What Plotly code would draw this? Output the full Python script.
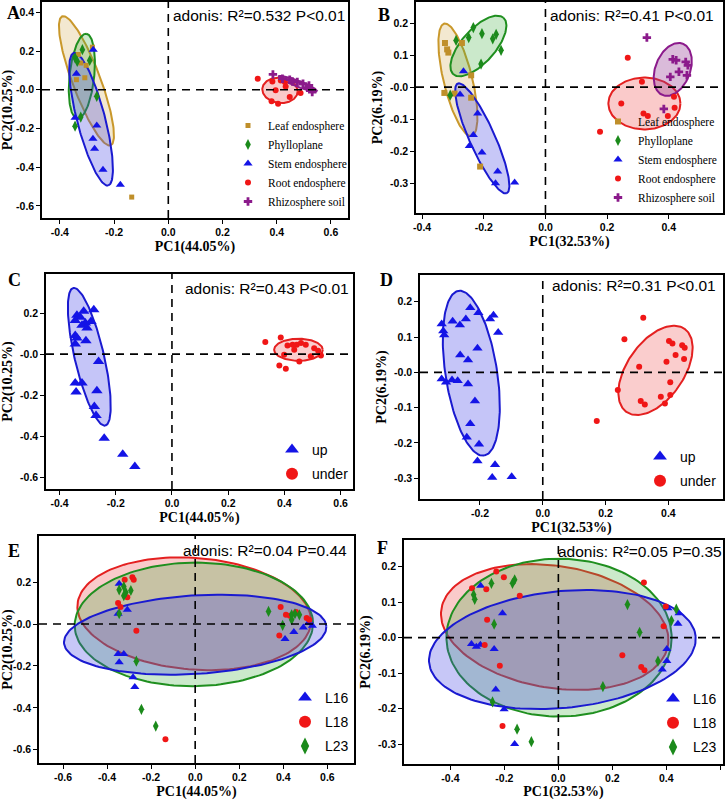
import numpy as np
import plotly.graph_objects as go

# ---------------- data ----------------
# Panel A : PC1(44.05%) / PC2(10.25%), five compartments
A_leaf_pc1 = [-0.280, -0.323, -0.308, -0.339, -0.332, -0.303, -0.135]
A_leaf_pc2 = [0.220, 0.138, 0.062, 0.052, 0.182, 0.126, -0.554]
A_phyl_pc1 = [-0.317, -0.344, -0.290, -0.264, -0.323, -0.344, -0.336]
A_phyl_pc2 = [0.207, 0.165, 0.151, -0.034, -0.141, -0.188, 0.146]
A_stem_pc1 = [-0.277, -0.339, -0.344, -0.264, -0.278, -0.272, -0.241, -0.177]
A_stem_pc2 = [0.207, 0.083, -0.145, -0.184, -0.253, -0.305, -0.413, -0.491]
A_root_pc1 = [0.330, 0.384, 0.415, 0.433, 0.396, 0.448, 0.488, 0.381, 0.405, 0.430]
A_root_pc2 = [0.057, 0.043, 0.048, 0.017, -0.003, -0.038, -0.017, -0.059, -0.072, 0.040]
A_rhizo_pc1 = [0.386, 0.421, 0.448, 0.476, 0.497, 0.519, 0.531, 0.513, 0.458]
A_rhizo_pc2 = [0.079, 0.057, 0.052, 0.040, 0.031, 0.022, -0.012, 0.010, 0.043]
# ellipse: centre x, centre y, semi-axis 1 (dx, dy), semi-axis 2 (dx, dy)
A_leaf_ell = [-0.302, 0.046, 0.0892, -0.333, 0.0484, 0.0253]
A_phyl_ell = [-0.319, 0.070, 0.0166, 0.219, 0.0453, -0.0067]
A_stem_ell = [-0.285, -0.152, 0.0633, -0.342, 0.050, 0.0181]
A_root_ell = [0.412, -0.003, 0.0652, -0.0052, 0.0, -0.0654]
A_rhizo_ell = [0.478, 0.031, 0.0707, -0.0379, -0.0039, -0.0145]

# Panel B : PC1(32.53%) / PC2(6.19%)
B_leaf_pc1 = [-0.326, -0.319, -0.315, -0.271, -0.328, -0.295, -0.241, -0.241, -0.212]
B_leaf_pc2 = [0.138, 0.118, 0.108, 0.138, -0.018, -0.020, 0.037, -0.033, -0.248]
B_phyl_pc1 = [-0.290, -0.249, -0.234, -0.206, -0.171, -0.160, -0.144, -0.209, -0.309]
B_phyl_pc2 = [0.146, 0.155, 0.186, 0.167, 0.151, 0.165, 0.115, 0.072, -0.025]
B_stem_pc1 = [-0.266, -0.277, -0.220, -0.234, -0.247, -0.206, -0.155, -0.162, -0.100]
B_stem_pc2 = [0.050, -0.023, -0.082, -0.149, -0.184, -0.204, -0.263, -0.300, -0.298]
B_root_pc1 = [0.267, 0.313, 0.246, 0.318, 0.332, 0.397, 0.419, 0.417, 0.177]
B_root_pc2 = [0.092, 0.017, -0.051, -0.082, -0.090, -0.090, -0.064, -0.030, -0.139]
B_rhizo_pc1 = [0.329, 0.413, 0.424, 0.455, 0.462, 0.433, 0.459, 0.405, 0.384]
B_rhizo_pc2 = [0.155, 0.087, 0.084, 0.079, 0.068, 0.048, 0.037, 0.032, -0.068]
B_leaf_ell = [-0.284, 0.023, 0.0444, -0.1753, 0.0452, 0.0105]
B_phyl_ell = [-0.2175, 0.1286, 0.0812, 0.0882, 0.0407, -0.0344]
B_stem_ell = [-0.205, -0.160, 0.0795, -0.1712, 0.0376, 0.0161]
B_root_ell = [0.321, -0.051, 0.1169, 0.0, 0.0, -0.0809]
B_rhizo_ell = [0.413, 0.0555, 0.0325, 0.0804, 0.0526, -0.0195]

# Panel C : up / under, PC1(44.05%)
C_up_pc1 = [-0.278, -0.314, -0.338, -0.326, -0.308, -0.288, -0.344, -0.320, -0.302, -0.344, -0.338, -0.344,
            -0.306, -0.261, -0.344, -0.320, -0.341, -0.267, -0.276, -0.270, -0.241, -0.175, -0.132]
C_up_pc2 = [0.216, 0.208, 0.189, 0.179, 0.151, 0.159, 0.163, 0.140, 0.127, 0.091, 0.078, 0.049,
            0.065, -0.036, -0.141, -0.141, -0.185, -0.179, -0.255, -0.299, -0.410, -0.488, -0.548]
C_under_pc1 = [0.332, 0.387, 0.411, 0.429, 0.444, 0.459, 0.476, 0.435, 0.399, 0.453, 0.494, 0.506,
               0.520, 0.530, 0.382, 0.405]
C_under_pc2 = [0.059, 0.081, 0.042, 0.046, 0.046, 0.054, 0.046, 0.021, -0.003, -0.036, -0.011, 0.029,
               0.016, -0.007, -0.055, -0.072]
C_up_ell = [-0.294, -0.013, 0.0569, -0.335, 0.0508, 0.0163]
C_under_ell = [0.450, 0.0211, 0.0865, 0.0, 0.0, -0.0537]

# Panel D : up / under, PC1(32.53%)
D_up_pc1 = [-0.322, -0.317, -0.314, -0.287, -0.264, -0.245, -0.231, -0.205, -0.168, -0.157, -0.142, -0.208,
            -0.263, -0.238, -0.322, -0.308, -0.289, -0.271, -0.238, -0.216, -0.231, -0.242, -0.203, -0.208,
            -0.152, -0.161, -0.099]
D_up_pc2 = [0.137, 0.117, 0.106, 0.145, 0.134, 0.151, 0.183, 0.169, 0.151, 0.162, 0.113, 0.068,
            0.049, 0.035, -0.019, -0.028, -0.022, -0.024, -0.033, -0.081, -0.146, -0.184, -0.204, -0.251,
            -0.262, -0.298, -0.296]
D_under_pc1 = [0.320, 0.260, 0.307, 0.239, 0.312, 0.325, 0.376, 0.389, 0.406, 0.406, 0.394, 0.402,
               0.413, 0.423, 0.444, 0.452, 0.450, 0.172]
D_under_pc2 = [0.155, 0.094, 0.016, -0.050, -0.081, -0.091, -0.069, -0.088, -0.064, -0.028, 0.030, 0.089,
               0.082, 0.049, 0.077, 0.070, 0.038, -0.138]
D_up_ell = [-0.2276, -0.0024, 0.0407, -0.2335, 0.0812, 0.0113]
D_under_ell = [0.359, 0.0057, 0.0924, 0.1179, 0.0739, -0.0462]

# Panel E : L16 / L18 / L23, PC1(44.05%)
E_L16_pc1 = [-0.345, -0.350, -0.308, -0.350, -0.324, -0.345, -0.282, -0.274, 0.408, 0.448, 0.491, 0.514, 0.532]
E_L16_pc2 = [0.192, 0.049, 0.068, -0.143, -0.143, -0.182, -0.254, -0.300, -0.071, -0.038, -0.016, 0.005, -0.008]
E_L18_pc1 = [-0.320, -0.285, -0.279, -0.308, -0.350, -0.339, -0.267, -0.135, 0.388, 0.412, 0.430, 0.458,
             0.506, 0.518, 0.382]
E_L18_pc2 = [0.211, 0.223, 0.211, 0.128, 0.100, 0.081, -0.032, -0.550, 0.081, 0.044, 0.040, 0.057,
             0.029, 0.021, -0.055]
E_L23_pc1 = [-0.345, -0.324, -0.315, -0.292, -0.324, -0.345, -0.267, -0.244, -0.179, 0.333, 0.438, 0.453,
             0.473, 0.397, 0.438]
E_L23_pc2 = [0.163, 0.179, 0.151, 0.160, 0.135, 0.049, -0.177, -0.407, -0.487, 0.060, 0.044, 0.049,
             0.044, -0.006, 0.021]
E_L16_ell = [0.0, -0.0507, 0.5955, 0.0396, 0.0114, -0.1867]
E_L18_ell = [-0.0045, 0.0491, 0.530, -0.0444, -0.0203, -0.2654]
E_L23_ell = [-0.006, -0.0016, 0.541, 0.0048, 0.0, -0.2948]

# Panel F : L16 / L18 / L23, PC1(32.53%)
F_L16_pc1 = [-0.288, -0.207, -0.322, -0.304, -0.289, -0.238, -0.232, -0.201, -0.162, 0.406, 0.447, 0.443,
             0.402, 0.402, 0.385]
F_L16_pc2 = [0.146, 0.069, -0.018, -0.026, -0.020, -0.032, -0.146, -0.202, -0.300, 0.083, 0.069, 0.039,
             -0.032, -0.066, -0.090]
F_L18_pc1 = [-0.320, -0.267, -0.230, -0.202, -0.143, -0.264, -0.273, -0.217, -0.207, 0.317, 0.398, 0.390,
             0.237, 0.307, 0.319]
F_L18_pc2 = [0.139, 0.136, 0.186, 0.170, 0.118, 0.050, -0.021, -0.079, -0.249, 0.155, 0.088, 0.032,
             -0.050, -0.083, -0.092]
F_L23_pc1 = [-0.314, -0.310, -0.248, -0.170, -0.162, -0.238, -0.244, -0.153, -0.100, 0.256, 0.301, 0.165,
             0.369, 0.437, 0.419]
F_L23_pc2 = [0.121, 0.108, 0.153, 0.153, 0.163, 0.038, -0.181, -0.258, -0.293, 0.093, 0.015, -0.138,
             -0.066, 0.080, 0.048]
F_L16_ell = [0.0148, -0.0336, 0.4938, 0.0374, 0.0216, -0.1636]
F_L18_ell = [-0.0136, 0.0299, 0.4198, -0.0514, -0.0363, -0.1697]
F_L23_ell = [0.0025, 0.0, 0.4173, 0.0, 0.0, -0.2224]

# axis ranges and ticks
A_xrange, A_yrange = [-0.466, 0.663], [-0.662, 0.453]
B_xrange, B_yrange = [-0.420, 0.576], [-0.393, 0.266]
C_xrange, C_yrange = [-0.448, 0.644], [-0.657, 0.390]
D_xrange, D_yrange = [-0.391, 0.574], [-0.359, 0.276]
E_xrange, E_yrange = [-0.709, 0.721], [-0.663, 0.420]
F_xrange, F_yrange = [-0.572, 0.610], [-0.356, 0.275]
A_xticks, A_yticks = [-0.4, -0.2, 0.0, 0.2, 0.4, 0.6], [0.4, 0.2, 0.0, -0.2, -0.4, -0.6]
B_xticks, B_yticks = [-0.4, -0.2, 0.0, 0.2, 0.4], [0.2, 0.1, 0.0, -0.1, -0.2, -0.3]
C_xticks, C_yticks = [-0.4, -0.2, 0.0, 0.2, 0.4, 0.6], [0.2, 0.0, -0.2, -0.4, -0.6]
D_xticks, D_yticks = [-0.2, 0.0, 0.2, 0.4], [0.2, 0.1, 0.0, -0.1, -0.2, -0.3]
E_xticks, E_yticks = [-0.6, -0.4, -0.2, 0.0, 0.2, 0.4, 0.6], [0.2, 0.0, -0.2, -0.4, -0.6]
F_xticks, F_yticks = [-0.4, -0.2, 0.0, 0.2, 0.4, 0.6], [0.2, 0.1, 0.0, -0.1, -0.2, -0.3]

adonis_labels = ["adonis: R²=0.532 P<0.01", "adonis: R²=0.41 P<0.01", "adonis: R²=0.43 P<0.01",
                 "adonis: R²=0.31 P<0.01", "adonis: R²=0.04 P=0.44", "adonis: R²=0.05 P=0.35"]
panel_letters = ["A", "B", "C", "D", "E", "F"]
pc1_titles = ["PC1(44.05%)", "PC1(32.53%)", "PC1(44.05%)", "PC1(32.53%)", "PC1(44.05%)", "PC1(32.53%)"]
pc2_titles = ["PC2(10.25%)", "PC2(6.19%)", "PC2(10.25%)", "PC2(6.19%)", "PC2(10.25%)", "PC2(6.19%)"]
compartments = ["Leaf endosphere", "Phylloplane", "Stem endosphere", "Root endosphere", "Rhizosphere soil"]
positions = ["up", "under"]
lines = ["L16", "L18", "L23"]

# ---------------- style / layout ----------------
W, H = 726, 800
SANS = "Liberation Sans, Arial, sans-serif"
SERIF = "Liberation Serif, Times New Roman, serif"

# panel frames in pixels: left, top, right, bottom
boxes = [(42, 2, 348, 218), (416, 2, 723, 213), (46, 274, 353, 489),
         (420, 275, 723, 499), (39, 536, 354, 763), (404, 540, 723, 764)]

col = {
    "leaf": ("#BF8F2A", "#C9982B", "rgba(228,205,150,0.45)"),
    "phyl": ("#1B8A1B", "#1F8F1F", "rgba(70,175,70,0.28)"),
    "stem": ("#1414E6", "#1A1AD0", "rgba(70,70,230,0.30)"),
    "root": ("#F01616", "#E42020", "rgba(240,80,80,0.30)"),
    "rhizo": ("#8B1A8B", "#8B1A8B", "rgba(150,60,150,0.35)"),
}


def ellipse(p, n=160):
    t = np.linspace(0, 2 * np.pi, n)
    cx, cy, ax, ay, bx, by = p
    return cx + ax * np.cos(t) + bx * np.sin(t), cy + ay * np.cos(t) + by * np.sin(t)


fig = go.Figure()


def add_ell(i, p, key, fill=None):
    ex, ey = ellipse(p)
    _, lc, fc = col[key]
    fig.add_trace(go.Scatter(x=ex, y=ey, mode="lines", fill="toself", fillcolor=fill or fc,
                             line=dict(color=lc, width=2), hoverinfo="skip", showlegend=False,
                             xaxis="x%d" % i, yaxis="y%d" % i))


def add_pts(i, x, y, key, symbol, size, name, legend=None, group=None):
    fig.add_trace(go.Scatter(x=x, y=y, mode="markers", name=name,
                             marker=dict(color=col[key][0], symbol=symbol, size=size, line=dict(width=0)),
                             showlegend=legend is not None, legend=legend or "legend",
                             legendgroup=group, xaxis="x%d" % i, yaxis="y%d" % i))


# Panel A
for p, k in [(A_leaf_ell, "leaf"), (A_phyl_ell, "phyl"), (A_stem_ell, "stem"), (A_root_ell, "root"), (A_rhizo_ell, "rhizo")]:
    add_ell(1, p, k)
for x, y, k, s, z, nm in [(A_leaf_pc1, A_leaf_pc2, "leaf", "square", 5, compartments[0]),
                          (A_phyl_pc1, A_phyl_pc2, "phyl", "diamond-tall", 8, compartments[1]),
                          (A_stem_pc1, A_stem_pc2, "stem", "triangle-up", 8, compartments[2]),
                          (A_root_pc1, A_root_pc2, "root", "circle", 6, compartments[3]),
                          (A_rhizo_pc1, A_rhizo_pc2, "rhizo", "cross", 7, compartments[4])]:
    add_pts(1, x, y, k, s, z, nm, legend="legend", group="a" + nm)

# Panel B
for p, k in [(B_leaf_ell, "leaf"), (B_phyl_ell, "phyl"), (B_stem_ell, "stem"), (B_root_ell, "root"), (B_rhizo_ell, "rhizo")]:
    add_ell(2, p, k)
for x, y, k, s, z, nm in [(B_leaf_pc1, B_leaf_pc2, "leaf", "square", 6, compartments[0]),
                          (B_phyl_pc1, B_phyl_pc2, "phyl", "diamond-tall", 8, compartments[1]),
                          (B_stem_pc1, B_stem_pc2, "stem", "triangle-up", 8, compartments[2]),
                          (B_root_pc1, B_root_pc2, "root", "circle", 6, compartments[3]),
                          (B_rhizo_pc1, B_rhizo_pc2, "rhizo", "cross", 7, compartments[4])]:
    add_pts(2, x, y, k, s, z, nm, legend="legend2", group="b" + nm)

# Panel C
add_ell(3, C_up_ell, "stem", "rgba(90,90,235,0.35)")
add_ell(3, C_under_ell, "root", "rgba(240,90,90,0.30)")
add_pts(3, C_up_pc1, C_up_pc2, "stem", "triangle-up", 10, positions[0], legend="legend3", group="c0")
add_pts(3, C_under_pc1, C_under_pc2, "root", "circle", 6, positions[1], legend="legend3", group="c1")

# Panel D
add_ell(4, D_up_ell, "stem", "rgba(90,90,235,0.35)")
add_ell(4, D_under_ell, "root", "rgba(240,90,90,0.30)")
add_pts(4, D_up_pc1, D_up_pc2, "stem", "triangle-up", 9, positions[0], legend="legend4", group="d0")
add_pts(4, D_under_pc1, D_under_pc2, "root", "circle", 6, positions[1], legend="legend4", group="d1")

# Panel E
add_ell(5, E_L18_ell, "root")
add_ell(5, E_L23_ell, "phyl")
add_ell(5, E_L16_ell, "stem")
add_pts(5, E_L16_pc1, E_L16_pc2, "stem", "triangle-up", 8, lines[0], legend="legend5", group="e0")
add_pts(5, E_L18_pc1, E_L18_pc2, "root", "circle", 6, lines[1], legend="legend5", group="e1")
add_pts(5, E_L23_pc1, E_L23_pc2, "phyl", "diamond-tall", 8, lines[2], legend="legend5", group="e2")

# Panel F
add_ell(6, F_L18_ell, "root")
add_ell(6, F_L23_ell, "phyl")
add_ell(6, F_L16_ell, "stem")
add_pts(6, F_L16_pc1, F_L16_pc2, "stem", "triangle-up", 8, lines[0], legend="legend6", group="f0")
add_pts(6, F_L18_pc1, F_L18_pc2, "root", "circle", 6, lines[1], legend="legend6", group="f1")
add_pts(6, F_L23_pc1, F_L23_pc2, "phyl", "diamond-tall", 8, lines[2], legend="legend6", group="f2")

xr = [A_xrange, B_xrange, C_xrange, D_xrange, E_xrange, F_xrange]
yr = [A_yrange, B_yrange, C_yrange, D_yrange, E_yrange, F_yrange]
xt = [A_xticks, B_xticks, C_xticks, D_xticks, E_xticks, F_xticks]
yt = [A_yticks, B_yticks, C_yticks, D_yticks, E_yticks, F_yticks]

layout = dict(width=W, height=H, margin=dict(l=0, r=0, t=0, b=0, autoexpand=False), paper_bgcolor="white",
              plot_bgcolor="white", font=dict(family=SANS, color="black"))
shapes, annotations = [], []
for i in range(6):
    l, t, r, b = boxes[i]
    n = i + 1
    ax = dict(domain=[l / W, r / W], range=xr[i], tickvals=xt[i],
              ticktext=["%.1f" % v for v in xt[i]], showgrid=False, zeroline=False,
              showline=True, mirror=True, linecolor="black", linewidth=1.5,
              ticks="outside", ticklen=4, tickwidth=1.2, tickcolor="black",
              tickfont=dict(family=SANS, size=10.5, weight="bold"), automargin=False,
              title=dict(text=pc1_titles[i], font=dict(family=SERIF, size=14, weight="bold"), standoff=4),
              anchor="y%d" % n)
    ay = dict(domain=[1 - b / H, 1 - t / H], range=yr[i], tickvals=yt[i],
              ticktext=[("-0.0" if v == 0 else "%.1f" % v) for v in yt[i]], showgrid=False, zeroline=False,
              showline=True, mirror=True, linecolor="black", linewidth=1.5,
              ticks="outside", ticklen=4, tickwidth=1.2, tickcolor="black",
              tickfont=dict(family=SANS, size=10.5, weight="bold"), automargin=False,
              title=dict(text=pc2_titles[i], font=dict(family=SERIF, size=14, weight="bold"), standoff=4),
              anchor="x%d" % n)
    layout["xaxis%s" % ("" if n == 1 else n)] = ax
    layout["yaxis%s" % ("" if n == 1 else n)] = ay
    xref = "x%s" % ("" if n == 1 else n)
    yref = "y%s" % ("" if n == 1 else n)
    shapes.append(dict(type="line", xref=xref, yref=yref + " domain", x0=0, x1=0, y0=0, y1=1,
                       line=dict(color="black", width=1.6, dash="8px,6px")))
    shapes.append(dict(type="line", xref=xref + " domain", yref=yref, x0=0, x1=1, y0=0, y1=0,
                       line=dict(color="black", width=1.6, dash="8px,6px")))

# panel letters
letter_pos = [(13, 13), (384, 15), (14, 280), (386, 280), (14, 551), (382, 548)]
for (px, py), s in zip(letter_pos, panel_letters):
    annotations.append(dict(text=s, x=px / W, y=1 - py / H, xref="paper", yref="paper", showarrow=False,
                            xanchor="center", yanchor="middle",
                            font=dict(family=SERIF, size=18, weight="bold", color="black")))
# adonis labels
adonis_pos = [(347, 15, "right"), (716, 15, "right"), (351, 288, "right"),
              (718, 286, "right"), (349, 550, "right"), (556, 551, "left")]
for (px, py, anc), s in zip(adonis_pos, adonis_labels):
    annotations.append(dict(text=s, x=px / W, y=1 - py / H, xref="paper", yref="paper", showarrow=False,
                            xanchor=anc, yanchor="middle", font=dict(family=SANS, size=15.5, color="black")))

layout["shapes"] = shapes
layout["annotations"] = annotations

small_leg = dict(bgcolor="rgba(0,0,0,0)", font=dict(family=SERIF, size=11.5), itemsizing="trace",
                 tracegroupgap=0, yanchor="bottom")
big_leg = dict(bgcolor="rgba(0,0,0,0)", font=dict(family=SANS, size=14), itemsizing="constant",
               tracegroupgap=3, yanchor="bottom")
layout["legend"] = dict(small_leg, x=228 / W, y=1 - 216 / H, xanchor="left")
layout["legend2"] = dict(small_leg, x=722 / W, y=1 - 212 / H, xanchor="right")
layout["legend3"] = dict(big_leg, x=272 / W, y=1 - 490 / H, xanchor="left")
layout["legend4"] = dict(big_leg, x=722 / W, y=1 - 497 / H, xanchor="right")
layout["legend5"] = dict(big_leg, x=285 / W, y=1 - 762 / H, xanchor="left")
layout["legend6"] = dict(big_leg, x=722 / W, y=1 - 763 / H, xanchor="right")

fig.update_layout(**layout)
fig.write_html("out.html", config={"displayModeBar": False},
               post_script="document.body.style.margin='0px';")
